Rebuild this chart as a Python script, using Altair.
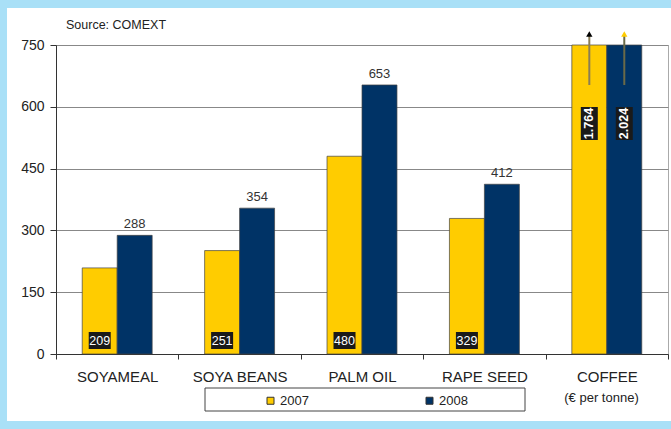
import altair as alt
import pandas as pd

categories = ["SOYAMEAL", "SOYA BEANS", "PALM OIL", "RAPE SEED", "COFFEE"]
years = ["2007", "2008"]
values_2007 = [209, 251, 480, 329, 1764]
values_2008 = [288, 354, 653, 412, 2024]
bar_colors = ["#FFCC00", "#003366"]
arrow_line_colors = {"2007": "#8a7d55", "2008": "#6a6a48"}
arrow_head_colors = {"2007": "#000000", "2008": "#FFCC00"}
axis_max = 750
y_ticks = [0, 150, 300, 450, 600, 750]
source_text = "Source: COMEXT"
unit_text = "(€ per tonne)"

rows = []
for c, v7, v8 in zip(categories, values_2007, values_2008):
    for yr, v in (("2007", v7), ("2008", v8)):
        rows.append({
            "cat": c, "year": yr, "value": v,
            "label": f"{v:,}".replace(",", "."),
            "over": bool(v > axis_max),
            "aline": arrow_line_colors[yr],
            "ahead": arrow_head_colors[yr],
        })
df = pd.DataFrame(rows)

FONT = "Liberation Sans"
BLUE = "#A9E0F7"

x = alt.X("cat:N", sort=categories,
          scale=alt.Scale(paddingInner=0, paddingOuter=0),
          axis=alt.Axis(title=None, labelAngle=0, tickBand="extent",
                        tickSize=5, labelPadding=10, labelFontSize=15,
                        labelColor="#222", domainColor="#333", tickColor="#333",
                        labelFont=FONT))
xo = alt.XOffset("year:N", sort=years,
                 scale=alt.Scale(paddingInner=0, paddingOuter=0.75))
y = alt.Y("value:Q",
          scale=alt.Scale(domain=[0, axis_max], clamp=True, nice=False),
          axis=alt.Axis(title=None, values=y_ticks, grid=True, gridColor="#888",
                        gridWidth=1, gridOpacity=1, tickSize=6, labelPadding=6,
                        labelFontSize=14, labelColor="#222", domainColor="#333",
                        tickColor="#333", labelFont=FONT))

base = alt.Chart(df)

bars = base.mark_bar(stroke="#444", strokeWidth=0.7).encode(
    x=x, xOffset=xo, y=y,
    color=alt.Color("year:N", sort=years,
                    scale=alt.Scale(domain=years, range=bar_colors),
                    legend=alt.Legend(orient="none", legendX=208, legendY=349,
                                      direction="horizontal", title=None,
                                      symbolType="square", symbolSize=49,
                                      symbolStrokeColor="#333", symbolStrokeWidth=1,
                                      labelFontSize=13, labelOffset=3,
                                      columnPadding=114, padding=0,
                                      labelColor="#222", labelFont=FONT)),
)

top_labels = base.transform_filter(
    (alt.datum.year == "2008") & (~alt.datum.over)
).mark_text(baseline="bottom", dy=-4, fontSize=13, color="#333", font=FONT).encode(
    x=x, xOffset=xo, y=y, text="label:N")

low = base.transform_filter((alt.datum.year == "2007") & (~alt.datum.over))
low_box = low.mark_bar(width=22, color="#1a1a1a").encode(
    x=x, xOffset=xo, y=alt.value(287), y2=alt.value(304))
low_text = low.mark_text(baseline="middle", fontSize=12.5, color="white", font=FONT).encode(
    x=x, xOffset=xo, y=alt.value(296), text="label:N")

over = base.transform_filter(alt.datum.over)
over_box = over.mark_bar(width=17, color="#1a1a1a").encode(
    x=x, xOffset=xo, y=alt.value(62), y2=alt.value(95))
over_text = over.mark_text(angle=270, baseline="middle", fontSize=12.5,
                           fontWeight="bold", color="white", font=FONT).encode(
    x=x, xOffset=xo, y=alt.value(78.5), text="label:N")
arrow_line = over.mark_rule(strokeWidth=2).encode(
    x=x, xOffset=xo, y=alt.value(40), y2=alt.value(-9),
    stroke=alt.Stroke("aline:N", scale=None))
arrow_head = over.mark_point(shape="triangle-up", filled=True, size=40, opacity=1).encode(
    x=x, xOffset=xo, y=alt.value(-11),
    fill=alt.Fill("ahead:N", scale=None))

one = alt.Data(values=[{}])


def strip(x1, x2, y1, y2):
    return alt.Chart(one).mark_rect(color=BLUE).encode(
        x=alt.value(x1), x2=alt.value(x2), y=alt.value(y1), y2=alt.value(y2))


strips = [strip(-56, 615, -45, -37), strip(-56, -49, -45, 384), strip(-56, 615, 376, 384)]

legend_box = alt.Chart(one).mark_rect(fill="white", stroke="#444", strokeWidth=1).encode(
    x=alt.value(149), x2=alt.value(469), y=alt.value(343), y2=alt.value(366))

source = alt.Chart(one).mark_text(align="left", baseline="middle", fontSize=12.5,
                                  color="#222", font=FONT).encode(
    x=alt.value(10), y=alt.value(-20), text=alt.value(source_text))
unit = alt.Chart(one).mark_text(align="center", baseline="middle", fontSize=13,
                                color="#222", font=FONT).encode(
    x=alt.value(545.5), y=alt.value(353), text=alt.value(unit_text))

chart = alt.layer(
    *strips, legend_box, bars, top_labels, low_box, low_text,
    arrow_line, arrow_head, over_box, over_text, source, unit
).properties(
    width=612, height=309,
    autosize=alt.AutoSizeParams(type="none"),
    padding={"left": 56, "top": 45, "right": 3, "bottom": 75},
    background="white",
).configure_view(stroke="#aaa", strokeWidth=1)

chart.save("out.html", embed_options={"renderer": "svg", "actions": False})
